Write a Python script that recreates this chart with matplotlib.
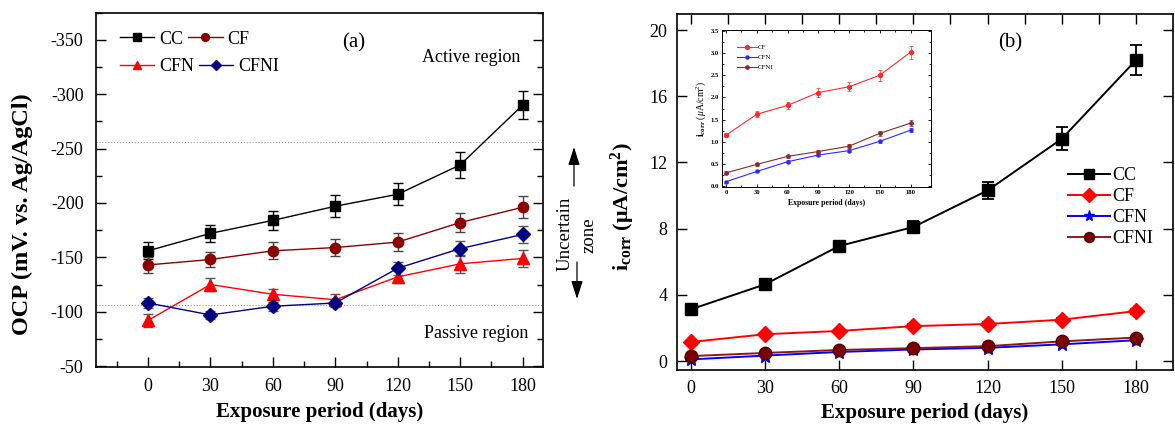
import matplotlib
matplotlib.use("Agg")
import matplotlib.pyplot as plt
import numpy as np

plt.rcParams['font.family'] = ['Liberation Serif', 'DejaVu Serif']
plt.rcParams['mathtext.fontset'] = 'custom'
plt.rcParams['mathtext.rm'] = 'Liberation Serif'
plt.rcParams['mathtext.bf'] = 'Liberation Serif:bold'
plt.rcParams['mathtext.it'] = 'Liberation Serif:italic'

# ---------------- data ----------------
days = [0, 30, 60, 90, 120, 150, 180]
xticks = [0, 30, 60, 90, 120, 150, 180]

# Panel (a): OCP (mV vs Ag/AgCl)
ocp_cc = [-156, -172, -184, -197, -208, -235, -290]
ocp_cc_err = [8, 8, 9, 10, 10, 12, 13]
ocp_cf = [-143, -148, -156, -159, -164, -182, -196]
ocp_cf_err = [7, 7, 8, 8, 8, 9, 10]
ocp_cfn = [-92, -125, -116, -111, -132, -144, -149]
ocp_cfn_err = [6, 6, 5, 5, 6, 8, 8]
ocp_cfni = [-108, -97, -105, -108, -140, -158, -171]
ocp_cfni_err = [5, 4, 4, 4, 6, 7, 8]
ocp_yticks = [-350, -300, -250, -200, -150, -100, -50]
active_limit = -256
passive_limit = -106

# Panel (b): icorr (uA/cm2)
i_cc = [3.12, 4.63, 6.95, 8.10, 10.31, 13.43, 18.19]
i_cc_err = [0.2, 0.2, 0.3, 0.35, 0.53, 0.7, 0.93]
i_cf = [1.15, 1.62, 1.82, 2.11, 2.24, 2.50, 3.02]
i_cf_err = [0.05, 0.07, 0.08, 0.10, 0.10, 0.12, 0.15]
i_cfn = [0.10, 0.33, 0.55, 0.70, 0.80, 1.01, 1.26]
i_cfn_err = [0.02, 0.02, 0.03, 0.03, 0.03, 0.04, 0.05]
i_cfni = [0.30, 0.49, 0.67, 0.78, 0.90, 1.19, 1.42]
i_cfni_err = [0.03, 0.03, 0.04, 0.04, 0.05, 0.05, 0.06]
i_yticks = [0, 4, 8, 12, 16, 20]
inset_yticks = [0.0, 0.5, 1.0, 1.5, 2.0, 2.5, 3.0, 3.5]

W, H = 1175, 428
fig = plt.figure(figsize=(W / 100, H / 100), dpi=100)

def rect(l, t, r, b):
    return [l / W, 1 - b / H, (r - l) / W, (b - t) / H]

# ================= Panel (a) =================
axa = fig.add_axes(rect(96, 12.7, 543.4, 366.7))
ekw = dict(capsize=3.5, elinewidth=1.0, capthick=1.0)
ca = [
    axa.errorbar(days, ocp_cc, yerr=ocp_cc_err, color='black', marker='s', ms=7,
                 lw=1.0, ecolor='black', label='CC', **ekw),
    axa.errorbar(days, ocp_cf, yerr=ocp_cf_err, color='#8B0000', marker='o', ms=7.5,
                 lw=1.0, ecolor='#444444', label='CF', **ekw),
    axa.errorbar(days, ocp_cfn, yerr=ocp_cfn_err, color='#FF0000', marker='^', ms=8,
                 lw=1.0, ecolor='#555555', label='CFN', **ekw),
    axa.errorbar(days, ocp_cfni, yerr=ocp_cfni_err, color='#000080', marker='D', ms=7,
                 lw=1.0, ecolor='#555555', label='CFNI', **ekw),
]
axa.axhline(active_limit, color='#999999', lw=0.8, ls=':')
axa.axhline(passive_limit, color='#999999', lw=0.8, ls=':')

axa.set_xlim(-25, 190)
axa.set_ylim(-49.4, -374.5)
axa.set_xticks(xticks)
axa.set_xticks([-15, 15, 45, 75, 105, 135, 165], minor=True)
axa.set_yticks(ocp_yticks)
axa.set_yticklabels([str(v) for v in ocp_yticks])
axa.set_yticks([-375, -325, -275, -225, -175, -125, -75], minor=True)
axa.tick_params(axis='both', which='both', direction='in', labelsize=13)
axa.tick_params(axis='both', which='major', length=7, width=1)
axa.tick_params(axis='both', which='minor', length=4, width=1)
axa.tick_params(axis='y', which='both', right=True, pad=9)
axa.tick_params(axis='x', which='both', top=False, pad=8)
for s in axa.spines.values():
    s.set_linewidth(1.2)
axa.set_xlabel('Exposure period (days)', fontsize=15, fontweight='bold')
axa.xaxis.set_label_coords(0.5, -0.10)
axa.set_ylabel('OCP (mV. vs. Ag/AgCl)', fontsize=17.5, fontweight='bold')
axa.yaxis.set_label_coords(-0.141, 0.43)

ha_ = [c.lines[0] for c in ca]
la_ = ['CC', 'CF', 'CFN', 'CFNI']
leg1 = axa.legend(ha_[:2], la_[:2], ncol=2, loc='center left',
                  bbox_to_anchor=((120 - 96) / 447.4, (366.7 - 39) / 354),
                  frameon=False, fontsize=13, handlelength=1.9, handletextpad=0.25,
                  columnspacing=0.3, borderpad=0, borderaxespad=0, markerscale=0.75)
axa.add_artist(leg1)
axa.legend(ha_[2:], la_[2:], ncol=2, loc='center left',
           bbox_to_anchor=((120 - 96) / 447.4, (366.7 - 66.7) / 354),
           frameon=False, fontsize=13, handlelength=1.9, handletextpad=0.25,
           columnspacing=0.3, borderpad=0, borderaxespad=0, markerscale=0.75)

axa.text((354 - 96) / 447.4, (366.7 - 43) / 354, '(a)', transform=axa.transAxes,
         fontsize=15, ha='center', va='center')
axa.text((471 - 96) / 447.4, (366.7 - 58) / 354, 'Active region', transform=axa.transAxes,
         fontsize=13, ha='center', va='center')
axa.text((476 - 96) / 447.4, (366.7 - 333) / 354, 'Passive region', transform=axa.transAxes,
         fontsize=13, ha='center', va='center')

# Uncertain zone annotation (figure pixels)
fig.text(565 / W, 1 - 234 / H, 'Uncertain', rotation=90, fontsize=13.5,
         ha='center', va='center')
fig.text(589 / W, 1 - 235 / H, 'zone', rotation=90, fontsize=13.5,
         ha='center', va='center')
fig.patches.append(matplotlib.patches.FancyArrowPatch(
    (574 / W, 1 - 186 / H), (574 / W, 1 - 147 / H), transform=fig.transFigure,
    arrowstyle='-|>,head_length=11,head_width=3.5', color='black', lw=0.9,
    shrinkA=0, shrinkB=0))
fig.patches.append(matplotlib.patches.FancyArrowPatch(
    (577 / W, 1 - 262 / H), (577 / W, 1 - 299 / H), transform=fig.transFigure,
    arrowstyle='-|>,head_length=11,head_width=3.5', color='black', lw=0.9,
    shrinkA=0, shrinkB=0))

# ================= Panel (b) =================
axb = fig.add_axes(rect(677.3, 14, 1172.7, 370))
ekb = dict(capsize=4, elinewidth=1.3, capthick=1.3)
cb = [
    axb.errorbar(days, i_cc, yerr=i_cc_err, color='black', marker='s', ms=8.5,
                 lw=1.4, label='CC', **ekb),
    axb.errorbar(days, i_cf, yerr=i_cf_err, color='#FF0000', marker='D', ms=8.5,
                 lw=1.4, label='CF', **ekb),
    axb.errorbar(days, i_cfn, yerr=i_cfn_err, color='#0000FF', marker='*', ms=10,
                 lw=1.4, label='CFN', **ekb),
    axb.errorbar(days, i_cfni, yerr=i_cfni_err, color='#8B1A1A', marker='o', ms=9,
                 mfc='#7A0000', mec='#5A0000', lw=1.4, label='CFNI', **ekb),
]
axb.set_xlim(-5.4, 194.8)
axb.set_ylim(-0.54, 20.97)
axb.set_xticks(xticks)
axb.set_yticks(i_yticks)
axb.set_xticks([15, 45, 75, 105, 135, 165], minor=True)
axb.tick_params(axis='both', which='both', direction='in', labelsize=13)
axb.tick_params(axis='both', which='major', length=7, width=1)
axb.tick_params(axis='x', which='minor', length=7, width=1, bottom=False, top=True)
axb.tick_params(axis='x', which='major', top=True, pad=7)
axb.tick_params(axis='y', which='major', right=True, pad=7)
for s in axb.spines.values():
    s.set_linewidth(1.2)
axb.set_xlabel('Exposure period (days)', fontsize=15, fontweight='bold')
axb.xaxis.set_label_coords(0.5, -0.093)
axb.set_ylabel(r'$\mathbf{i}_{\mathbf{corr}}$ ($\mathbf{\mu}$A/cm$^{\mathbf{2}}$)',
               fontsize=16, fontweight='bold')
axb.yaxis.set_label_coords(-0.081, 0.46)
axb.legend([c.lines[0] for c in cb], ['CC', 'CF', 'CFN', 'CFNI'],
           loc='center left', bbox_to_anchor=((1068 - 677.3) / 495.4, (370 - 207) / 356),
           frameon=False, fontsize=13, handlelength=2.3, handletextpad=0.15,
           labelspacing=0.22, borderpad=0, borderaxespad=0, markerscale=0.8)
axb.text((1010 - 677.3) / 495.4, (370 - 43) / 356, '(b)', transform=axb.transAxes,
         fontsize=15, ha='center', va='center')

# ================= Inset =================
axi = fig.add_axes(rect(722, 30, 931, 187))
eki = dict(capsize=1.5, elinewidth=0.5, capthick=0.5)
ci = [
    axi.errorbar(days, i_cf, yerr=i_cf_err, color='#FF2A2A', marker='o', ms=2.8,
                 lw=0.8, label='CF', **eki),
    axi.errorbar(days, i_cfn, yerr=i_cfn_err, color='#2A2AFF', marker='o', ms=2.2,
                 lw=0.8, label='CFN', **eki),
    axi.errorbar(days, i_cfni, yerr=i_cfni_err, color='#8B2A2A', marker='o', ms=2.4,
                 lw=0.8, label='CFNI', **eki),
]
axi.set_xlim(-4, 200)
axi.set_ylim(-0.02, 3.52)
axi.set_xticks(xticks)
axi.set_xticks([15, 45, 75, 105, 135, 165], minor=True)
axi.set_yticks(inset_yticks)
axi.set_yticklabels(['%.1f' % v for v in inset_yticks])
axi.set_yticks([0.25, 0.75, 1.25, 1.75, 2.25, 2.75, 3.25], minor=True)
axi.tick_params(axis='both', which='both', direction='in', labelsize=4.8,
                top=True, right=True, pad=2)
axi.tick_params(axis='both', which='major', length=2.5, width=0.6)
axi.tick_params(axis='both', which='minor', length=1.5, width=0.6)
for lab in axi.get_xticklabels() + axi.get_yticklabels():
    lab.set_fontweight('bold')
for s in axi.spines.values():
    s.set_linewidth(0.7)
axi.set_xlabel('Exposure period (days)', fontsize=5.6, fontweight='bold', labelpad=3)
axi.set_ylabel(r'$\mathbf{i}_{\mathbf{corr}}$ ($\mu$A/cm$^{2}$)', fontsize=7, labelpad=2)
axi.legend([c.lines[0] for c in ci], ['CF', 'CFN', 'CFNI'],
           loc='upper left', bbox_to_anchor=(0.07, 0.91), frameon=False, fontsize=5,
           handlelength=3.0, handletextpad=0.1, labelspacing=0.6, borderpad=0,
           borderaxespad=0)

fig.savefig('out.png', dpi=100)
